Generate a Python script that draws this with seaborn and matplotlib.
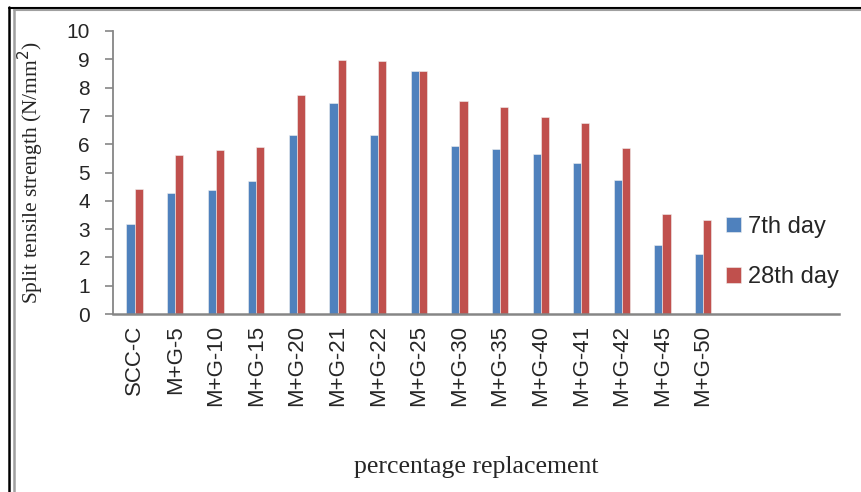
import matplotlib
matplotlib.use("Agg")
from matplotlib import pyplot as plt
from matplotlib.lines import Line2D
import seaborn as sns
import pandas as pd

categories = ["SCC-C", "M+G-5", "M+G-10", "M+G-15", "M+G-20", "M+G-21", "M+G-22",
              "M+G-25", "M+G-30", "M+G-35", "M+G-40", "M+G-41", "M+G-42", "M+G-45", "M+G-50"]
day7 = [3.18, 4.28, 4.38, 4.71, 6.32, 7.46, 6.33, 8.58, 5.93, 5.83, 5.66, 5.34, 4.75, 2.45, 2.12]
day28 = [4.41, 5.63, 5.81, 5.91, 7.73, 8.98, 8.93, 8.59, 7.53, 7.33, 6.96, 6.74, 5.87, 3.54, 3.33]
series = ["7th day", "28th day"]
colors = ["#4F81BD", "#C0504D"]

df = pd.DataFrame({
    "cat": categories * 2,
    "val": day7 + day28,
    "series": [series[0]] * len(categories) + [series[1]] * len(categories),
})

sns.set_style("white")
sans = ["Liberation Sans", "DejaVu Sans"]
serif = ["Liberation Serif", "DejaVu Serif"]
axis_grey = "#868686"

fig = plt.figure(figsize=(8.61, 4.92), dpi=100)
ax = fig.add_axes([113 / 861, 1 - 314 / 492, (838.7 - 113) / 861, (314 - 31) / 492])

sns.barplot(data=df, x="cat", y="val", hue="series", palette=colors, width=0.4,
            saturation=1, edgecolor="#f0f0f0", linewidth=0.4, ax=ax, legend=True)

ax.set_ylim(0, 10)
ax.set_xlim(-0.53, 17.34)
ax.set_yticks(range(0, 11))
ax.set_yticklabels([str(v) for v in range(0, 11)], family=sans, fontsize=15)
ax.set_xticks(range(len(categories)))
ax.set_xticklabels(categories, rotation=90, family=sans, fontsize=16)
ax.tick_params(axis="y", direction="out", length=5.5, width=1.2, color=axis_grey, pad=11, left=True)
ax.tick_params(axis="x", length=0, pad=8)

for side in ["top", "right"]:
    ax.spines[side].set_visible(False)
ax.spines["left"].set_color(axis_grey)
ax.spines["left"].set_linewidth(1.3)
ax.spines["bottom"].set_color(axis_grey)
ax.spines["bottom"].set_linewidth(1.8)

ax.set_ylabel("Split tensile strength (N/mm$^2$)", family=serif, fontsize=15.5)
ax.yaxis.set_label_coords(-0.093, 0.5)
ax.set_xlabel("percentage replacement", family=serif, fontsize=18.5)
ax.xaxis.set_label_coords(0.5, -0.5)

ax.legend(loc="center left", bbox_to_anchor=(0.8447, 0.219), frameon=False,
          borderaxespad=0, borderpad=0,
          prop={"family": sans, "size": 17}, handlelength=0.64, handleheight=0.64,
          handletextpad=0.3, labelspacing=1.2)

# double frame around the picture (left and top edges)
fig.add_artist(Line2D([9 / 861, 9 / 861], [0, 1 - 7 / 492], color="black", lw=1.8))
fig.add_artist(Line2D([14 / 861, 14 / 861], [0, 1 - 10 / 492], color="#a0a0a0", lw=1.8))
fig.add_artist(Line2D([9 / 861, 1], [1 - 7.5 / 492, 1 - 7.5 / 492], color="black", lw=1.5))
fig.add_artist(Line2D([14 / 861, 1], [1 - 10 / 492, 1 - 10 / 492], color="#a0a0a0", lw=1.5))

fig.savefig("out.png", dpi=100)
